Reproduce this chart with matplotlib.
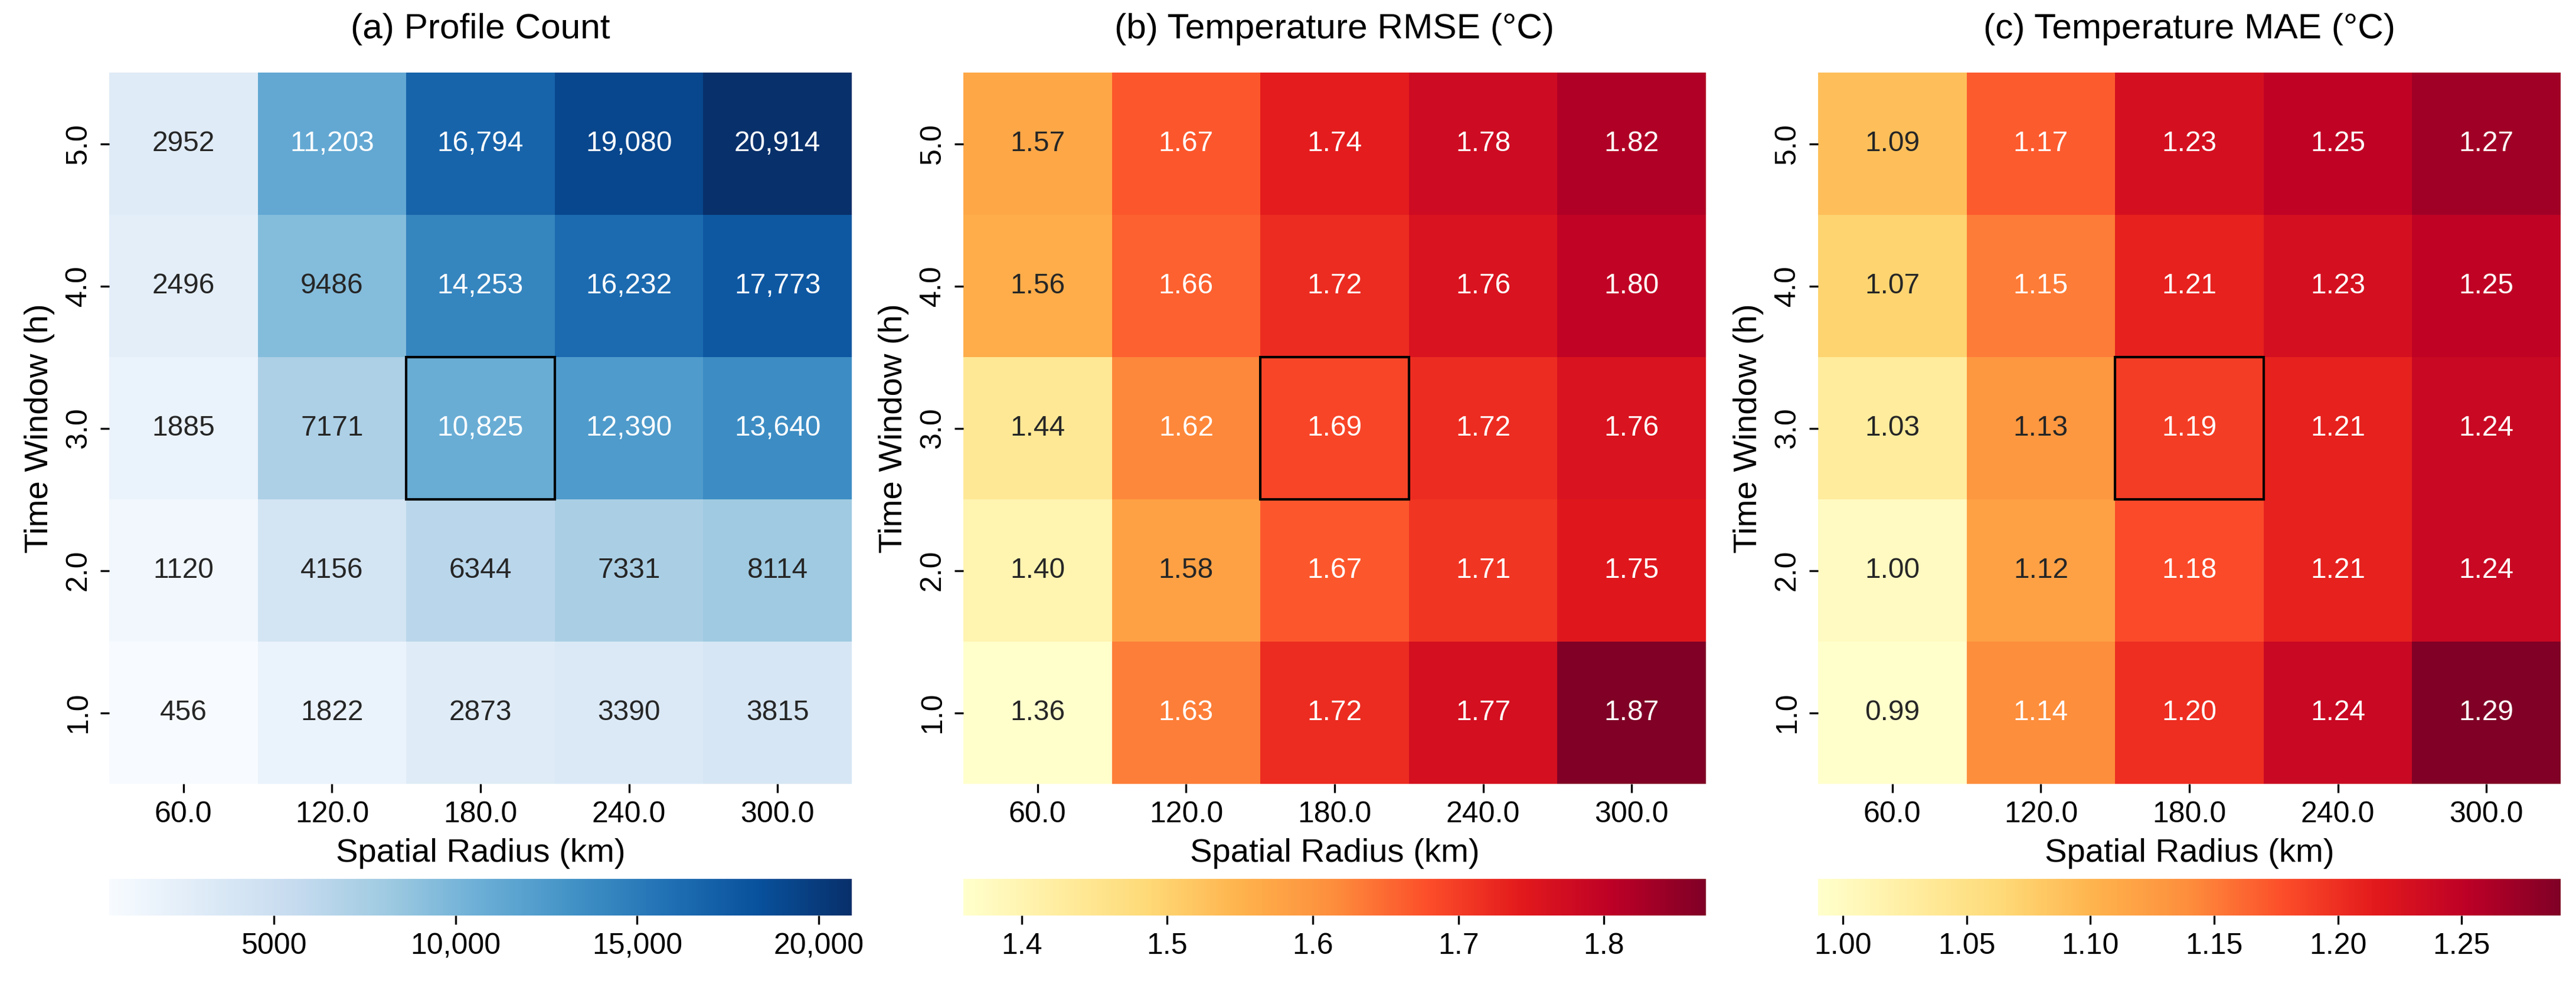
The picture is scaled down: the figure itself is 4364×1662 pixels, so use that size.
import numpy as np
import matplotlib
matplotlib.use("Agg")
import matplotlib.pyplot as plt
import seaborn as sns
from matplotlib.patches import Rectangle
from matplotlib.ticker import FuncFormatter

plt.rcParams['font.family'] = ['Liberation Sans', 'DejaVu Sans']

radii = [60.0, 120.0, 180.0, 240.0, 300.0]
windows = [5.0, 4.0, 3.0, 2.0, 1.0]  # top to bottom

counts = np.array([
    [2952, 11203, 16794, 19080, 20914],
    [2496, 9486, 14253, 16232, 17773],
    [1885, 7171, 10825, 12390, 13640],
    [1120, 4156, 6344, 7331, 8114],
    [456, 1822, 2873, 3390, 3815],
])
rmse = np.array([
    [1.57, 1.67, 1.74, 1.78, 1.82],
    [1.56, 1.66, 1.72, 1.76, 1.80],
    [1.44, 1.62, 1.69, 1.72, 1.76],
    [1.40, 1.58, 1.67, 1.71, 1.75],
    [1.36, 1.63, 1.72, 1.77, 1.87],
])
mae = np.array([
    [1.09, 1.17, 1.23, 1.25, 1.27],
    [1.07, 1.15, 1.21, 1.23, 1.25],
    [1.03, 1.13, 1.19, 1.21, 1.24],
    [1.00, 1.12, 1.18, 1.21, 1.24],
    [0.99, 1.14, 1.20, 1.24, 1.29],
])
best_window, best_radius = 3.0, 180.0


def fmt_count(v, pos=None):
    v = int(round(v))
    return f'{v:,}' if v >= 10000 else str(v)


W, H = 4364, 1662
fig = plt.figure(figsize=(W / 300, H / 300), dpi=300)

panels = [
    ('(a) Profile Count', counts, 'Blues', [[fmt_count(v) for v in r] for r in counts], FuncFormatter(fmt_count), 185),
    ('(b) Temperature RMSE (°C)', rmse, 'YlOrRd', [[f'{v:.2f}' for v in r] for r in rmse], None, 1632),
    ('(c) Temperature MAE (°C)', mae, 'YlOrRd', [[f'{v:.2f}' for v in r] for r in mae], None, 3080),
]

for title, data, cmap, labels, cfmt, x0 in panels:
    ax = fig.add_axes([x0 / W, (H - 1328) / H, 1258 / W, 1205 / H])
    cax = fig.add_axes([x0 / W, (H - 1551) / H, 1258 / W, 62 / H])
    sns.heatmap(data, ax=ax, cmap=cmap, annot=np.array(labels), fmt='',
                annot_kws={'fontsize': 11.5},
                cbar_ax=cax, cbar_kws={'orientation': 'horizontal'},
                xticklabels=[f'{r:.1f}' for r in radii],
                yticklabels=[f'{w:.1f}' for w in windows])
    ax.set_title(title, fontsize=14.5, pad=14)
    ax.set_xlabel('Spatial Radius (km)', fontsize=13.5)
    ax.set_ylabel('Time Window (h)', fontsize=13.5)
    ax.tick_params(axis='both', labelsize=12)
    plt.setp(ax.get_yticklabels(), rotation=90, va='center')
    plt.setp(ax.get_xticklabels(), rotation=0)
    ax.set_aspect('auto')
    ci = radii.index(best_radius)
    ri = windows.index(best_window)
    ax.add_patch(Rectangle((ci, ri), 1, 1, fill=False, edgecolor='black', lw=1.0))
    cax.tick_params(labelsize=12)
    if cfmt is not None:
        cax.xaxis.set_major_formatter(cfmt)

fig.savefig('out.png', dpi=300)
